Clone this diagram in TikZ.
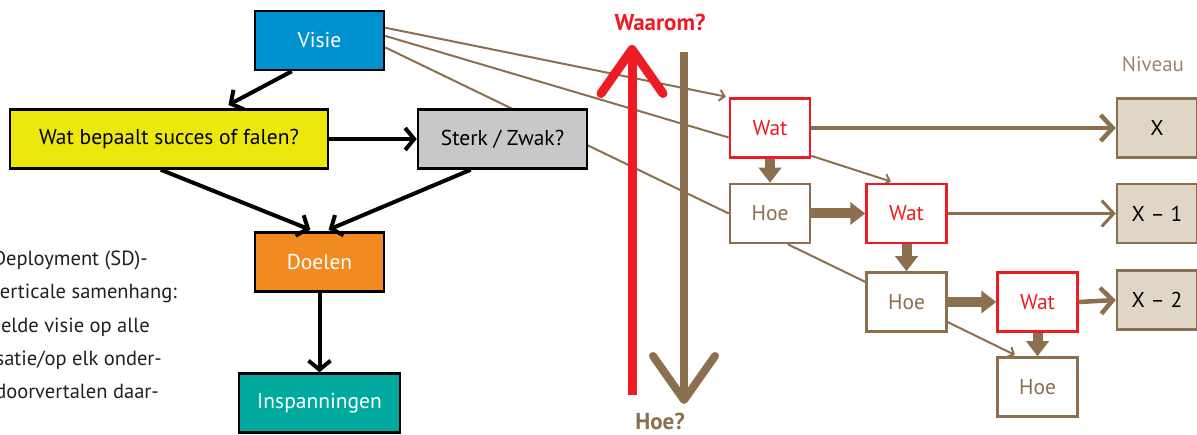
\documentclass[tikz,border=0pt]{standalone}
\usepackage{fontspec}
\setmainfont{PT Sans}
\usetikzlibrary{arrows.meta,backgrounds}

\definecolor{sdbrown}{RGB}{139,111,78}
\definecolor{sdred}{RGB}{237,28,36}
\definecolor{sdtan}{RGB}{224,214,200}
\definecolor{sdblue}{RGB}{0,146,208}
\definecolor{sdyellow}{RGB}{237,232,12}
\definecolor{sdgrey}{RGB}{200,200,202}
\definecolor{sdorange}{RGB}{242,138,34}
\definecolor{sdteal}{RGB}{0,169,157}
\definecolor{sdtext}{RGB}{35,31,32}

\tikzset{
  boxfont/.style={font=\fontsize{21.5}{24}\selectfont},
  box/.style={draw=black,line width=2.5pt,minimum height=59pt,inner sep=0pt,boxfont},
  small/.style={line width=2.5pt,minimum width=80pt,minimum height=59pt,inner sep=0pt,boxfont},
  watbox/.style={small,draw=sdred,fill=white,text=sdred},
  hoebox/.style={small,draw=sdbrown,fill=white,text=sdbrown},
  nivbox/.style={small,draw=sdbrown,fill=sdtan,text=black},
  blk/.style={line width=4pt,-{Straight Barb[length=9pt,width=22pt]}},
  link/.style={draw=sdbrown,line width=2pt},
  linkarr/.style={link,-{Straight Barb[length=5pt,width=11pt]}},
  fat/.style={draw=sdbrown,line width=10pt,-{Triangle[length=15pt,width=22pt]}},
  level/.style={draw=sdbrown,line width=4.5pt,-{Straight Barb[length=12pt,width=26pt]}},
  side/.style={anchor=base east,inner sep=0pt,text=sdtext,font=\fontsize{20.5}{22}\selectfont},
  ask/.style={anchor=base,inner sep=0pt,font=\fontsize{23}{25}\selectfont\bfseries}
}

\begin{document}
\begin{tikzpicture}[x=1pt,y=-1pt]
  \path[use as bounding box,clip] (0,0) rectangle (1197,435);

  % left: vision down to efforts
  \node[box,fill=sdblue,text=white,minimum width=129pt] (visie) at (319.5,40.5) {Visie};
  \node[box,fill=sdyellow,minimum width=318pt] (succes) at (169,139) {Wat bepaalt succes of falen?};
  \node[box,fill=sdgrey,minimum width=169pt] (sterk) at (502.5,139) {Sterk / Zwak?};
  \node[box,fill=sdorange,text=white,minimum width=129pt] (doelen) at (319.5,262) {Doelen};
  \node[box,fill=sdteal,text=white,minimum width=161pt] (inspan) at (319.5,403) {Inspanningen};

  \draw[blk,shorten >=7pt] (visie.228) -- (succes.30);
  \draw[blk] (succes.east) -- (sterk.west);
  \draw[blk,shorten >=4pt] (succes.255) -- (doelen.100);
  \draw[blk,shorten >=4pt] (sterk.224) -- (doelen.80);
  \draw[blk] (doelen.south) -- (inspan.north);

  % running text beside the chart
  \node[side] (t1) at (148,266) {Deployment (SD)-};
  \node[side] (t2) at (177,299) {erticale samenhang:};
  \node[side] (t3) at (150,333) {eelde visie op alle};
  \node[side] (t4) at (162,366) {satie/op elk onder-};
  \node[side] (t5) at (159,399) {doorvertalen daar-};

  % waarom / hoe
  \coordinate (rbot) at (632,395);
  \coordinate (rtop) at (632,45);
  \coordinate (btop) at (684,52);
  \coordinate (bbot) at (684,404);
  \draw[sdred,line width=9pt,-{Straight Barb[length=44pt,width=62pt,round]}] (rbot) -- (rtop);
  \draw[sdbrown,line width=8pt,-{Straight Barb[length=44pt,width=62pt,round]}] (btop) -- (bbot);
  \node[ask,text=sdred] (waarom) at (660,31) {Waarom?};
  \node[ask,text=sdbrown] (hoe) at (660,430) {Hoe?};

  % wat / hoe cascade
  \node[watbox] (wat1) at (770,128) {Wat};
  \node[hoebox] (hoe1) at (770,213.5) {Hoe};
  \node[watbox] (wat2) at (906.5,213.5) {Wat};
  \node[hoebox] (hoe2) at (906.5,302) {Hoe};
  \node[watbox] (wat3) at (1037.5,302) {Wat};
  \node[hoebox] (hoe3) at (1037.5,387) {Hoe};

  \node[anchor=base,inner sep=0pt,text=sdbrown!85,font=\fontsize{21}{23}\selectfont] (niveau) at (1153,72) {Niveau};
  \node[nivbox] (niv0) at (1157,128) {X};
  \node[nivbox] (niv1) at (1157,213.5) {X – 1};
  \node[nivbox] (niv2) at (1157,300) {X – 2};

  \draw[fat] (wat1.south) -- (hoe1.north);
  \draw[fat] (hoe1.east) -- (wat2.west);
  \draw[fat] (wat2.south) -- (hoe2.north);
  \draw[fat] (hoe2.east) -- (wat3.west);
  \draw[fat] (wat3.south) -- (hoe3.north);

  \draw[level] (wat1.east) -- (niv0.west);
  \draw[level,line width=3pt] (wat2.east) -- (niv1.west);
  \draw[level] (wat3.east) -- (niv2.west);

  \begin{pgfonlayer}{background}
    \draw[linkarr,shorten >=3pt] (visie.11) -- (wat1.north west);
    \draw[link] (visie.4) -- (wat1.193);
    \draw[link] (visie.354) -- (hoe1.west);
    \draw[linkarr,shorten >=4pt] (wat1.326) -- (wat2.111);
    \draw[link] (hoe1.300) -- (hoe2.154);
    \draw[linkarr,shorten >=3pt] (hoe2.334) -- (hoe3.123);
  \end{pgfonlayer}
\end{tikzpicture}
\end{document}
